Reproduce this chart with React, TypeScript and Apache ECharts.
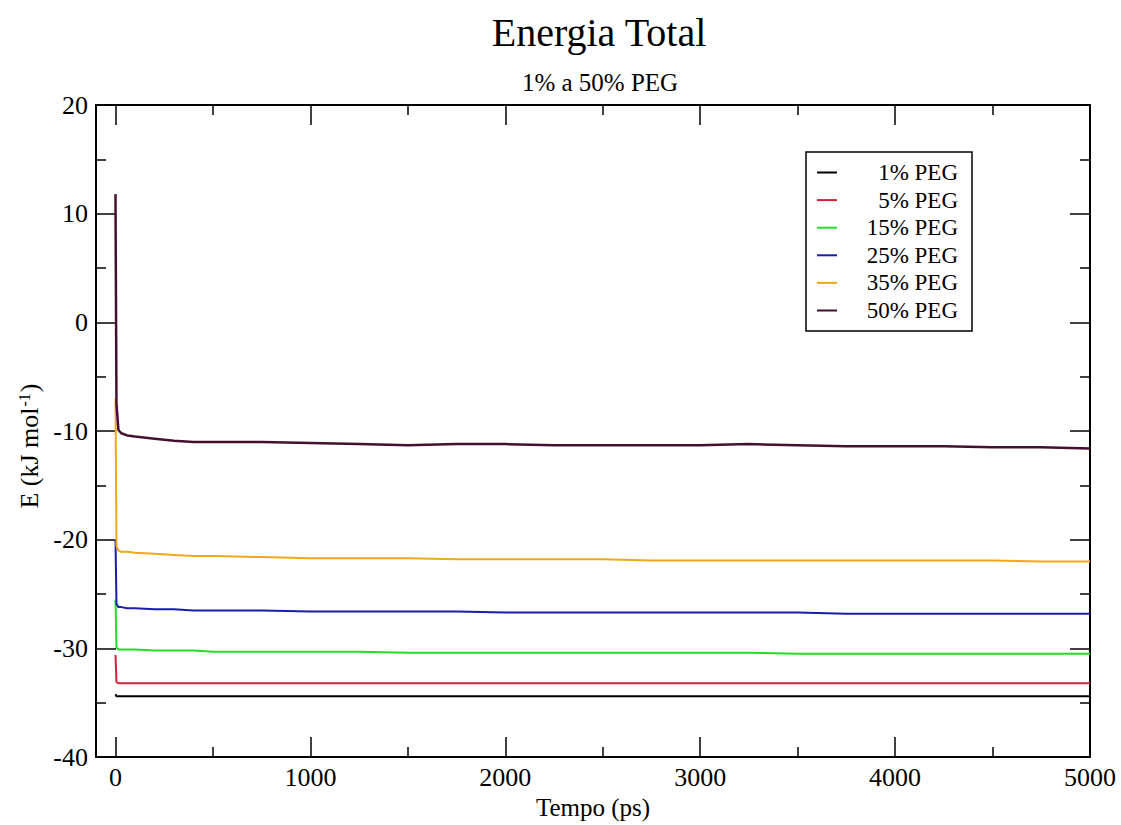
import React, { useEffect, useRef } from "react";
import * as echarts from "echarts";

const times = [0, 5, 15, 30, 60, 100, 200, 300, 400, 500, 750, 1000, 1250, 1500, 1750, 2000, 2250, 2500, 2750, 3000, 3250, 3500, 3750, 4000, 4250, 4500, 4750, 5000];

const peg1 = [-34.2, -34.4, -34.4, -34.4, -34.4, -34.4, -34.4, -34.4, -34.4, -34.4, -34.4, -34.4, -34.4, -34.4, -34.4, -34.4, -34.4, -34.4, -34.4, -34.4, -34.4, -34.4, -34.4, -34.4, -34.4, -34.4, -34.4, -34.4];
const peg5 = [-30.6, -33.1, -33.2, -33.2, -33.2, -33.2, -33.2, -33.2, -33.2, -33.2, -33.2, -33.2, -33.2, -33.2, -33.2, -33.2, -33.2, -33.2, -33.2, -33.2, -33.2, -33.2, -33.2, -33.2, -33.2, -33.2, -33.2, -33.2];
const peg15 = [-25.5, -29.9, -30.1, -30.1, -30.1, -30.1, -30.2, -30.2, -30.2, -30.3, -30.3, -30.3, -30.3, -30.4, -30.4, -30.4, -30.4, -30.4, -30.4, -30.4, -30.4, -30.5, -30.5, -30.5, -30.5, -30.5, -30.5, -30.5];
const peg25 = [-20.0, -25.9, -26.2, -26.2, -26.3, -26.3, -26.4, -26.4, -26.5, -26.5, -26.5, -26.6, -26.6, -26.6, -26.6, -26.7, -26.7, -26.7, -26.7, -26.7, -26.7, -26.7, -26.8, -26.8, -26.8, -26.8, -26.8, -26.8];
const peg35 = [-7.0, -20.6, -21.0, -21.1, -21.1, -21.2, -21.3, -21.4, -21.5, -21.5, -21.6, -21.7, -21.7, -21.7, -21.8, -21.8, -21.8, -21.8, -21.9, -21.9, -21.9, -21.9, -21.9, -21.9, -21.9, -21.9, -22.0, -22.0];
const peg50 = [11.8, -7.5, -9.9, -10.2, -10.4, -10.5, -10.7, -10.9, -11.0, -11.0, -11.0, -11.1, -11.2, -11.3, -11.2, -11.2, -11.3, -11.3, -11.3, -11.3, -11.2, -11.3, -11.4, -11.4, -11.4, -11.5, -11.5, -11.6];

const seriesNames = ["1% PEG", "5% PEG", "15% PEG", "25% PEG", "35% PEG", "50% PEG"];
const seriesValues = [peg1, peg5, peg15, peg25, peg35, peg50];
const seriesColors = ["#000000", "#d0203a", "#22dd22", "#1c1caa", "#f0a818", "#45102f"];

const xMajorTicks = [0, 1000, 2000, 3000, 4000, 5000];
const xMinorTicks = [500, 1500, 2500, 3500, 4500];

const FONT = "Liberation Serif";

export default function App() {
  const ref = useRef<HTMLDivElement>(null);

  useEffect(() => {
    if (!ref.current) return;
    const chart = echarts.init(ref.current, undefined, { renderer: "svg" });

    const axisLine = { show: true, onZero: false, lineStyle: { color: "#000", width: 2 } };
    const noLine = { show: false, onZero: false };
    const tickStyle = { color: "#000", width: 1.5 };
    const xBase = {
      type: "value" as const,
      min: -100,
      max: 5000,
      splitLine: { show: false },
      gridIndex: 0,
    };

    const option: any = {
      animation: false,
      backgroundColor: "#fff",
      title: [
        {
          text: "Energia Total",
          left: 594,
          top: 7,
          textAlign: "center",
          textStyle: { fontFamily: FONT, fontSize: 40, fontWeight: "normal", color: "#000" },
        },
        {
          text: "1% a 50% PEG",
          left: 595,
          top: 65,
          textAlign: "center",
          textStyle: { fontFamily: FONT, fontSize: 25, fontWeight: "normal", color: "#000" },
        },
      ],
      grid: { left: 96, top: 105, width: 994, height: 660, containLabel: false },
      legend: {
        orient: "vertical",
        left: 806,
        top: 152,
        padding: [9, 14, 9, 11],
        itemGap: 4.6,
        itemWidth: 20,
        itemHeight: 2,
        icon: "rect",
        selectedMode: false,
        borderColor: "#000",
        borderWidth: 1.5,
        backgroundColor: "#fff",
        data: seriesNames,
        formatter: (name: string) => `{r|${name}}`,
        textStyle: {
          fontFamily: FONT,
          fontSize: 23,
          color: "#000",
          rich: {
            r: { fontFamily: FONT, fontSize: 23, color: "#000", width: 116, align: "right" },
          },
        },
      },
      xAxis: [
        {
          ...xBase,
          position: "bottom",
          name: "Tempo (ps)",
          nameLocation: "middle",
          nameGap: 36,
          nameTextStyle: { fontFamily: FONT, fontSize: 25, color: "#000" },
          axisLine,
          axisTick: { show: true, inside: true, length: 20, customValues: xMajorTicks, lineStyle: tickStyle },
          axisLabel: {
            show: true,
            customValues: xMajorTicks,
            margin: 7,
            fontFamily: FONT,
            fontSize: 26,
            color: "#000",
            formatter: (v: number) => String(v),
          },
        },
        {
          ...xBase,
          position: "bottom",
          axisLine: noLine,
          axisTick: { show: true, inside: true, length: 10, customValues: xMinorTicks, lineStyle: tickStyle },
          axisLabel: { show: false },
        },
        {
          ...xBase,
          position: "top",
          axisLine,
          axisTick: { show: true, inside: true, length: 20, customValues: xMajorTicks, lineStyle: tickStyle },
          axisLabel: { show: false },
        },
        {
          ...xBase,
          position: "top",
          axisLine: noLine,
          axisTick: { show: true, inside: true, length: 10, customValues: xMinorTicks, lineStyle: tickStyle },
          axisLabel: { show: false },
        },
      ],
      yAxis: [
        {
          type: "value",
          position: "left",
          min: -40,
          max: 20,
          interval: 10,
          name: "{a|E (kJ mol}{s|-1}{a|)}",
          nameLocation: "middle",
          nameRotate: 90,
          nameGap: 50,
          nameTextStyle: {
            fontFamily: FONT,
            fontSize: 26,
            color: "#000",
            padding: [0, 30, 0, 0],
            rich: {
              a: { fontFamily: FONT, fontSize: 26, color: "#000" },
              s: { fontFamily: FONT, fontSize: 16, color: "#000", verticalAlign: "top", padding: [0, 1, 10, 1] },
            },
          },
          splitLine: { show: false },
          axisLine,
          axisTick: { show: true, inside: true, length: 20, lineStyle: tickStyle },
          minorTick: { show: true, splitNumber: 2, length: 10, lineStyle: tickStyle },
          axisLabel: { show: true, margin: 8, fontFamily: FONT, fontSize: 26, color: "#000" },
        },
        {
          type: "value",
          position: "right",
          min: -40,
          max: 20,
          interval: 10,
          splitLine: { show: false },
          axisLine,
          axisTick: { show: true, inside: true, length: 20, lineStyle: tickStyle },
          minorTick: { show: true, splitNumber: 2, length: 10, lineStyle: tickStyle },
          axisLabel: { show: false },
        },
      ],
      series: seriesNames.map((name, i) => ({
        name,
        type: "line",
        xAxisIndex: 0,
        yAxisIndex: 0,
        symbol: "none",
        showSymbol: false,
        color: seriesColors[i],
        lineStyle: { color: seriesColors[i], width: i === 5 ? 2.5 : 2 },
        data: times.map((t, k) => [t, seriesValues[i][k]]),
        z: 2 + i,
      })),
    };

    chart.setOption(option);
    return () => chart.dispose();
  }, []);

  return (
    <div
      ref={ref}
      style={{ position: "fixed", left: 0, top: 0, width: 1121, height: 825, background: "#fff" }}
    />
  );
}
